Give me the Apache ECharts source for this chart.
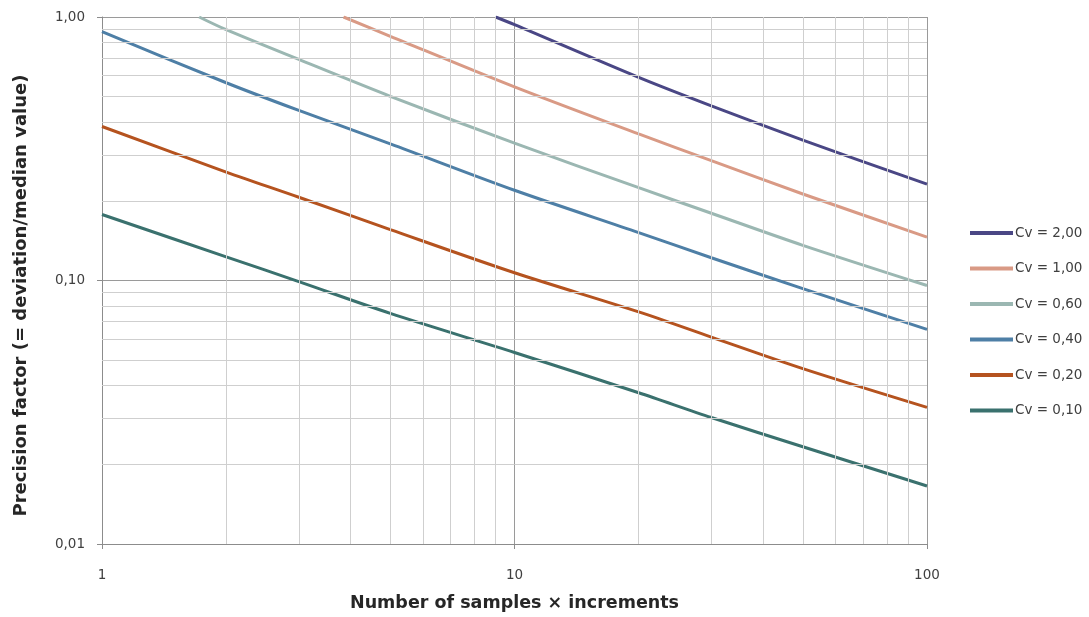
<!DOCTYPE html>
<html>
<head>
<meta charset="utf-8">
<script src="https://cdn.jsdelivr.net/npm/echarts@6/dist/echarts.min.js"></script>
<style>
html,body{margin:0;padding:0;background:#fff;}
#chart{width:1089px;height:617px;}
</style>
</head>
<body>
<div id="chart"></div>
<script>
// Series names
var seriesNames = ['Cv = 2,00', 'Cv = 1,00', 'Cv = 0,60', 'Cv = 0,40', 'Cv = 0,20', 'Cv = 0,10'];
var seriesColors = ['#4a4785', '#d99a85', '#9bb7b2', '#4e7fa6', '#b5531f', '#3a716e'];

// [number of samples, precision factor]
var cv200 = [[9.0, 1.0], [10, 0.935], [20, 0.59], [30, 0.46], [50, 0.341], [100, 0.232]];
var cv100 = [[3.85, 1.0], [5, 0.845], [10, 0.543], [20, 0.36], [30, 0.285], [50, 0.213], [100, 0.146]];
var cv060 = [[1.72, 1.0], [2, 0.895], [3, 0.69], [5, 0.5], [10, 0.332], [20, 0.225], [30, 0.18], [50, 0.136], [100, 0.0957]];
var cv040 = [[1, 0.88], [2, 0.563], [3, 0.442], [5, 0.33], [10, 0.22], [20, 0.152], [30, 0.122], [50, 0.0932], [100, 0.0652]];
var cv020 = [[1, 0.384], [2, 0.258], [3, 0.207], [5, 0.156], [10, 0.107], [20, 0.076], [30, 0.061], [50, 0.0463], [100, 0.033]];
var cv010 = [[1, 0.178], [2, 0.123], [3, 0.099], [5, 0.075], [10, 0.0533], [20, 0.0375], [30, 0.0302], [50, 0.0234], [100, 0.0166]];

// Minor grid values
var xMinor = [2, 3, 4, 5, 6, 7, 8, 9, 20, 30, 40, 50, 60, 70, 80, 90];
var yMinor = [0.02, 0.03, 0.04, 0.05, 0.06, 0.07, 0.08, 0.09, 0.2, 0.3, 0.4, 0.5, 0.6, 0.7, 0.8, 0.9];

var allData = [cv200, cv100, cv060, cv040, cv020, cv010];

var FONT = '"DejaVu Sans", sans-serif';

var series = [{
  type: 'line',
  data: [],
  z: 1,
  silent: true,
  markLine: {
    silent: true,
    symbol: ['none', 'none'],
    label: {show: false},
    animation: false,
    lineStyle: {color: '#cfcfcf', width: 1, type: 'solid'},
    data: xMinor.map(function (v) { return {xAxis: v}; }).concat(yMinor.map(function (v) { return {yAxis: v}; }))
  }
}];
allData.forEach(function (d, i) {
  series.push({
    name: seriesNames[i],
    type: 'line',
    data: d,
    z: 3,
    showSymbol: false,
    symbol: 'none',
    smooth: 0.3,
    clip: true,
    lineStyle: {color: seriesColors[i], width: 3},
    itemStyle: {color: seriesColors[i]}
  });
});

var chart = echarts.init(document.getElementById('chart'));
chart.setOption({
  animation: false,
  backgroundColor: '#fff',
  grid: {left: 102, right: 162, top: 17, bottom: 68, containLabel: false},
  legend: {
    data: seriesNames,
    orient: 'vertical',
    left: 970,
    top: 226,
    padding: 0,
    itemWidth: 43,
    itemHeight: 14,
    itemGap: 21.5,
    icon: 'path://M0,0 L43,0 L43,4 L0,4 Z',
    textStyle: {fontFamily: FONT, fontSize: 13.5, lineHeight: 14, color: '#404040', padding: [0, 0, 0, -3]}
  },
  xAxis: {
    type: 'log',
    logBase: 10,
    min: 1,
    max: 100,
    name: 'Number of samples \u00d7 increments',
    nameLocation: 'middle',
    nameGap: 50,
    nameTextStyle: {fontFamily: FONT, fontSize: 17.5, fontWeight: 'bold', color: '#262626'},
    axisLine: {show: true, lineStyle: {color: '#8c8c8c', width: 1}},
    axisTick: {show: true, length: 5, lineStyle: {color: '#8c8c8c'}},
    axisLabel: {fontFamily: FONT, fontSize: 13.5, color: '#404040', margin: 24},
    splitLine: {show: true, lineStyle: {color: '#9a9a9a', width: 1}}
  },
  yAxis: {
    type: 'log',
    logBase: 10,
    min: 0.01,
    max: 1,
    name: 'Precision factor (= deviation/median value)',
    nameLocation: 'middle',
    nameGap: 72,
    nameTextStyle: {fontFamily: FONT, fontSize: 18, fontWeight: 'bold', color: '#262626', padding: [0, 30, 0, 0]},
    axisLine: {show: true, lineStyle: {color: '#8c8c8c', width: 1}},
    axisTick: {show: true, length: 5, lineStyle: {color: '#8c8c8c'}},
    axisLabel: {
      fontFamily: FONT, fontSize: 13.5, color: '#404040', margin: 17,
      formatter: function (v) { return v.toFixed(2).replace('.', ','); }
    },
    splitLine: {show: true, lineStyle: {color: '#9a9a9a', width: 1}}
  },
  series: series
});
</script>
</body>
</html>
